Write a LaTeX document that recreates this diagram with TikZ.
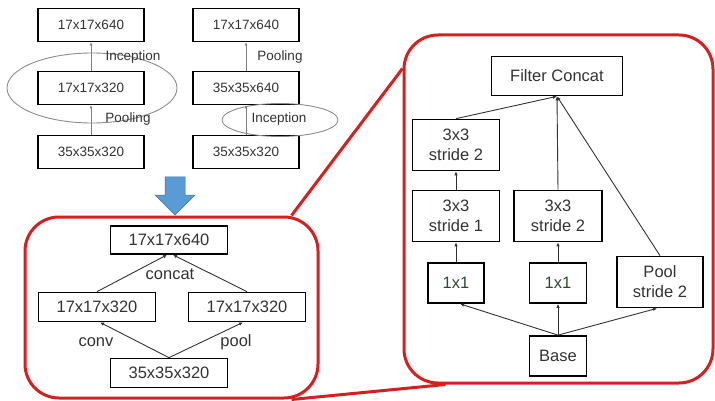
\documentclass[tikz,border=0pt]{standalone}
\usepackage{fontspec}
\setmainfont{Liberation Sans}
\usetikzlibrary{arrows.meta,positioning,shapes.geometric}
\definecolor{zoomred}{HTML}{D81E1E}
\definecolor{arrowblue}{HTML}{5B9BD5}
\definecolor{arrowedge}{HTML}{41719C}
\definecolor{txt}{HTML}{333333}
\definecolor{ringgray}{HTML}{8C8C8C}
\definecolor{onegreen}{HTML}{2E4A33}

\begin{document}
\begin{tikzpicture}[
  x=1pt,y=-1pt,
  small/.style={draw=black,line width=1.8pt,minimum width=106pt,minimum height=33pt,inner sep=0pt,text=txt,font=\fontsize{13.5}{15}\selectfont},
  big/.style={draw=black,line width=1.7pt,inner sep=0pt,align=center,text=txt,font=\fontsize{16.5}{20}\selectfont},
  lbl/.style={text=txt,font=\fontsize{13.5}{15}\selectfont},
  biglbl/.style={text=txt,font=\fontsize{16.5}{20}\selectfont},
  ring/.style={draw=ringgray,line width=0.9pt},
  thin/.style={-{Latex[length=3pt,width=3pt]},draw=gray,line width=0.8pt},
  arr/.style={-{Latex[length=4pt,width=3.5pt]},draw=black!80,line width=0.9pt},
  zoombox/.style={draw=zoomred,line width=3pt,rounded corners=34pt,inner sep=0pt},
  zoomline/.style={draw=zoomred,line width=3pt}
]
\useasboundingbox (0,0) rectangle (715,401);

% two ways to shrink the grid
\node[small] (tl1) at (91,25) {17x17x640};
\node[small] (tl2) at (91,88) {17x17x320};
\node[small] (tl3) at (91,152) {35x35x320};
\node[small] (tr1) at (246,25) {17x17x640};
\node[small] (tr2) at (246,88) {35x35x640};
\node[small] (tr3) at (246,152) {35x35x320};
\foreach \a/\b in {tl3/tl2,tl2/tl1,tr3/tr2,tr2/tr1} \draw[thin] (\a)--(\b);
\node[ring,ellipse,minimum width=170pt,minimum height=70pt] (ringl) at (92,88) {};
\node[ring,ellipse,minimum width=116pt,minimum height=33pt] (ringr) at (280,120) {};
\node[lbl] (inc1) at (133,57) {Inception};
\node[lbl] (pool1) at (128,119) {Pooling};
\node[lbl] (pool2) at (280,57) {Pooling};
\node[lbl] (inc2) at (279,119) {Inception};

% blue arrow
\draw[fill=arrowblue,draw=arrowedge,line width=0.5pt]
  (165,177)--(185,177)--(185,195)--(195,195)--(175,215)--(155,195)--(165,195)--cycle;

% red frames and zoom lines
\node[zoombox,minimum width=293pt,minimum height=181pt] (fsmall) at (171.5,307.5) {};
\node[zoombox,minimum width=309pt,minimum height=348pt] (fbig) at (558.5,209) {};
\draw[zoomline] ([xshift=-28pt]fsmall.north east)--([yshift=-35pt]fbig.north west);
\draw[zoomline] ([xshift=-28pt]fsmall.south east)--([xshift=43pt]fbig.south west);

% new layout
\node[big,minimum width=117pt,minimum height=28pt] (bl1) at (169,240) {17x17x640};
\node[big,minimum width=117pt,minimum height=29pt] (bl2) at (97,307) {17x17x320};
\node[big,minimum width=117pt,minimum height=29pt] (bl3) at (247,307) {17x17x320};
\node[big,minimum width=117pt,minimum height=29pt] (bl4) at (169,373) {35x35x320};
\draw[arr] (bl4.north)--([xshift=3pt]bl2.south);
\draw[arr] (bl4.north)--([xshift=-4pt]bl3.south);
\draw[arr] (bl2.north)--([xshift=-2pt]bl1.south);
\draw[arr] (bl3.north)--([xshift=4pt]bl1.south);
\node[biglbl] (cc) at (170,274) {concat};
\node[biglbl] (cv) at (96,342) {conv};
\node[biglbl] (pl1) at (236,342) {pool};

% inception module
\node[big,minimum width=131pt,minimum height=39pt] (fc) at (557,76) {Filter Concat};
\node[big,minimum width=87pt,minimum height=51pt] (a3) at (456,145) {3x3\\stride 2};
\node[big,minimum width=87pt,minimum height=51pt] (a2) at (456,216) {3x3\\stride 1};
\node[big,minimum width=88pt,minimum height=51pt] (b2) at (558,216) {3x3\\stride 2};
\node[big,minimum width=56pt,minimum height=40pt,text=onegreen] (a1) at (456,283) {1x1};
\node[big,minimum width=57pt,minimum height=40pt,text=onegreen] (b1) at (558,283) {1x1};
\node[big,minimum width=86pt,minimum height=51pt] (pl) at (660,282) {Pool\\stride 2};
\node[big,minimum width=57pt,minimum height=40pt] (base) at (558,356) {Base};
\draw[arr] (base.north)--([xshift=4pt]a1.south);
\draw[arr] (base.north)--(b1.south);
\draw[arr] (base.north)--([xshift=-3pt]pl.south);
\foreach \a/\b in {a1/a2,a2/a3,b1/b2} \draw[arr] (\a)--(\b);
\foreach \a in {a3,b2,pl} \draw[arr] (\a.north)--(fc.south);
\end{tikzpicture}
\end{document}
